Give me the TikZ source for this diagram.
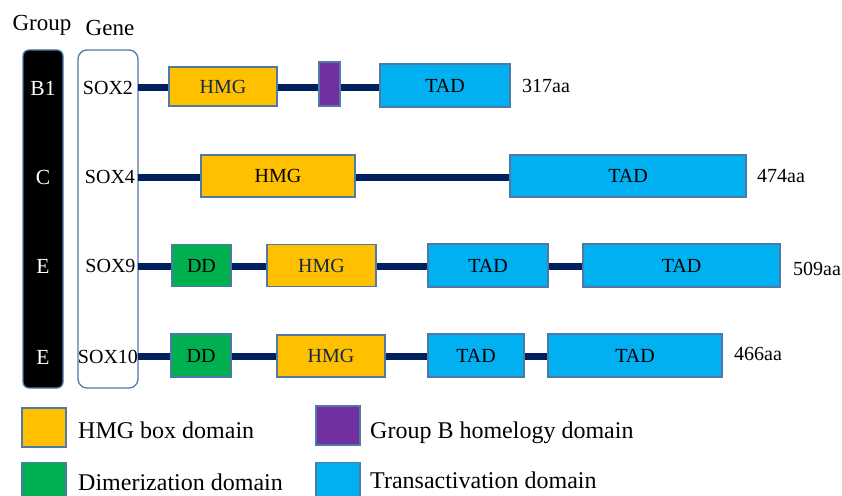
\documentclass[tikz,border=0pt]{standalone}
\usepackage{fontspec}
\setmainfont{Liberation Serif}
\definecolor{hmgY}{HTML}{FFC000}
\definecolor{grpB}{HTML}{7030A0}
\definecolor{tadB}{HTML}{00B0F0}
\definecolor{ddG}{HTML}{00B050}
\definecolor{navy}{HTML}{002060}
\definecolor{edge}{HTML}{4F7AA8}
\definecolor{hmgtxt}{HTML}{14284B}
\begin{document}
\begin{tikzpicture}[x=1pt,y=-1pt,
  dom/.style={draw=edge, line width=1.3pt, minimum height=42pt, inner sep=0pt, font=\fontsize{20}{20}\selectfont},
  hmg/.style={dom, fill=hmgY, text=hmgtxt},
  tad/.style={dom, fill=tadB},
  ddbox/.style={dom, fill=ddG},
  gbbox/.style={dom, fill=grpB},
  link/.style={navy, line width=7pt},
  aalab/.style={anchor=west, inner sep=0pt, font=\fontsize{20}{20}\selectfont},
  grp/.style={text=white, font=\fontsize{21.5}{22}\selectfont},
  gene/.style={font=\fontsize{20}{20}\selectfont},
  head/.style={font=\fontsize{23}{23}\selectfont},
  legsq/.style={draw=edge, line width=1.3pt, minimum width=44pt, minimum height=39pt, inner sep=0pt},
  legtxt/.style={anchor=base west, inner sep=0pt, font=\fontsize{24}{24}\selectfont}]
\useasboundingbox (0,0) rectangle (842,495);
\begin{scope}
\clip (0,0) rectangle (842,495);
% headers
\node[head] (hgroup) at (42,25) {Group};
\node[head] (hgene) at (110,28) {Gene};
% group bar and gene box
\node[draw=edge, fill=black, line width=1.3pt, rounded corners=6pt, minimum width=40pt, minimum height=338pt, inner sep=0pt] (gbar) at (43,219) {};
\node[draw=edge, fill=white, line width=1.3pt, rounded corners=9pt, minimum width=60pt, minimum height=338pt, inner sep=0pt] (gbox) at (108,219) {};
\node[grp] (g1) at (43,88) {B1};
\node[grp] (g2) at (43,177) {C};
\node[grp] (g3) at (43,266) {E};
\node[grp] (g4) at (43,357) {E};
\node[gene] (s2) at (108,88) {SOX2};
\node[gene] (s4) at (110,177) {SOX4};
\node[gene] (s9) at (110.5,266) {SOX9};
\node[gene] (s10) at (108,357) {SOX10};
\coordinate (r1) at (138,87);
\coordinate (r2) at (138,177);
\coordinate (r3) at (138,266);
\coordinate (r4) at (138,356);
% links (drawn first)
\coordinate (a1) at (169,87); \coordinate (b1) at (277,87);
\coordinate (c1) at (319,87); \coordinate (d1) at (340,87);
\coordinate (e1) at (380,87);
\draw[link] (r1) -- (a1);
\draw[link] (b1) -- (c1);
\draw[link] (d1) -- (e1);
\coordinate (a2) at (201,177); \coordinate (b2) at (355,177); \coordinate (c2) at (510,177);
\draw[link] (r2) -- (a2);
\draw[link] (b2) -- (c2);
\coordinate (a3) at (172,266); \coordinate (b3) at (231,266); \coordinate (c3) at (267,266);
\coordinate (d3) at (376,266); \coordinate (e3) at (428,266); \coordinate (f3) at (548,266); \coordinate (g3b) at (583,266);
\draw[link] (r3) -- (a3);
\draw[link] (b3) -- (c3);
\draw[link] (d3) -- (e3);
\draw[link] (f3) -- (g3b);
\coordinate (a4) at (171,356); \coordinate (b4) at (231,356); \coordinate (c4) at (277,356);
\coordinate (d4) at (385,356); \coordinate (e4) at (428,356); \coordinate (f4) at (524,356); \coordinate (g4b) at (548,356);
\draw[link] (r4) -- (a4);
\draw[link] (b4) -- (c4);
\draw[link] (d4) -- (e4);
\draw[link] (f4) -- (g4b);
% row 1: SOX2
\node[hmg, minimum width=108pt, minimum height=39pt] (h1) at (223,86.5) {HMG};
\node[gbbox, minimum width=21pt, minimum height=44pt] (p1) at (329.5,84) {};
\node[tad, minimum width=130pt, minimum height=43pt] (t1) at (445,85.5) {TAD};
\node[aalab] (l1) at (522,86) {317aa};
% row 2: SOX4
\node[hmg, text=black, minimum width=154pt] (h2) at (278,176) {HMG};
\node[tad, minimum width=236pt] (t2) at (628,176) {TAD};
\node[aalab] (l2) at (757,176) {474aa};
% row 3: SOX9
\node[ddbox, minimum width=59pt] (dd3) at (201.5,265.5) {DD};
\node[hmg, minimum width=109pt] (h3) at (321.5,265.5) {HMG};
\node[tad, minimum width=120pt, minimum height=43pt] (t3a) at (488,265.5) {TAD};
\node[tad, minimum width=197pt, minimum height=43pt] (t3b) at (681.5,265.5) {TAD};
\node[aalab] (l3) at (793,269) {509aa};
% row 4: SOX10
\node[ddbox, minimum width=60pt, minimum height=43pt] (dd4) at (201,355.5) {DD};
\node[hmg, minimum width=108pt] (h4) at (331,356) {HMG};
\node[tad, minimum width=96pt, minimum height=43pt] (t4a) at (476,355.5) {TAD};
\node[tad, minimum width=174pt, minimum height=43pt] (t4b) at (635,355.5) {TAD};
\node[aalab] (l4) at (734,354) {466aa};
% legend
\node[legsq, fill=hmgY] (k1) at (44,427.5) {};
\node[legtxt] (kt1) at (78,438) {HMG box domain};
\node[legsq, fill=grpB] (k2) at (338,425.5) {};
\node[legtxt] (kt2) at (370,438) {Group B homelogy domain};
\node[legsq, fill=ddG] (k3) at (44,482) {};
\node[legtxt] (kt3) at (78,490) {Dimerization domain};
\node[legsq, fill=tadB] (k4) at (338,482) {};
\node[legtxt] (kt4) at (370,488) {Transactivation domain};
\end{scope}
\end{tikzpicture}
\end{document}
